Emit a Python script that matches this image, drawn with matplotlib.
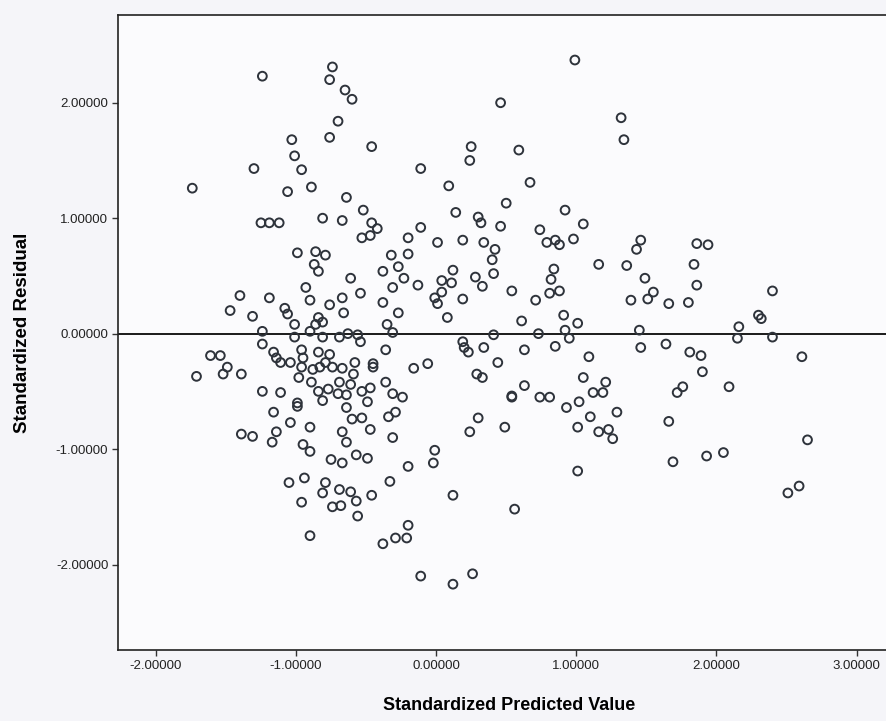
import matplotlib
matplotlib.use("Agg")
import matplotlib.pyplot as plt

# standardized predicted value (x) / standardized residual (y)
pred = [
    -1.24, -1.03, -1.01, -1.30, -0.96, -1.74, -1.06, -0.89, -1.25, -1.19, -1.12,
    -0.74, -0.76, -0.65, -0.60, -0.70, -0.76, -0.46, 0.46, 0.25, 0.24, -0.11,
    0.09, -0.64, -0.52, -0.81, -0.67, -0.46, -0.42, -0.11, 0.14, 0.30, 0.32, 0.46,
    0.99, 1.32, 1.34, 0.59, 0.67, 0.50, 0.92, 1.05, 0.74,
    -0.99, -1.40, -1.19, -1.47, -1.31, -1.08, -1.06, -1.01, -0.93, -0.90, -1.24,
    -1.24, -1.01, -0.90, -1.61, -1.54, -1.49, -1.52, -1.39, -1.71, -1.16, -1.14,
    -1.11, -1.04, -0.96, -0.95, -0.96, -0.98, -0.89, -1.24, -1.11, -0.99, -0.99,
    -1.16, -1.04, -0.90, -1.39, -1.31, -1.14,
    -0.53, -0.47, -0.20, 0.01, 0.19, 0.34, 0.42, 0.40, 0.41, -0.86, -0.79, -0.87,
    -0.84, -0.32, -0.20, -0.38, -0.27, -0.23, -0.61, -0.31, -0.13, 0.04, 0.12,
    0.11, 0.28, 0.33, -0.54, -0.67, 0.04, -0.01, 0.01, 0.19, -0.76, -0.38, -0.27,
    -0.66, 0.08, -0.84, -0.81, -0.86, -0.35, -0.31, -0.81, -0.69, -0.63, -0.56,
    -0.54, -0.36, -0.84, -0.76, 0.19, 0.20, 0.23, 0.34, 0.41, 0.44, -0.79, -0.58,
    -0.45, -0.45, -0.16, -0.06, -0.88, -0.83, -0.74, -0.67, -0.59, -0.36, 0.29,
    0.33, -0.69, -0.61, -0.47, -0.53, -0.84, -0.77, -0.70, -0.64, -0.31, -0.24,
    -0.81, -0.49, -0.64, -0.34, -0.29, -0.60, -0.53, -0.67, -0.47, -0.31, 0.30,
    0.24,
    0.79, 0.85, 0.88, 0.98, 1.46, 1.43, 1.16, 1.36, 0.84, 0.82, 0.54, 0.71, 0.81,
    0.88, 1.49, 1.55, 1.51, 1.39, 1.66, 1.80, 0.61, 0.91, 1.01, 0.73, 0.92, 0.95,
    1.45, 1.46, 1.64, 0.63, 0.85, 1.81, 1.09, 1.05, 1.21, 0.63, 0.54, 0.54, 0.74,
    0.81, 1.12, 1.19, 1.02, 0.93, 1.29, 1.10, 1.72, 1.76, 1.66, 1.01, 1.16, 1.23,
    1.26, 0.49,
    1.86, 1.94, 1.84, 1.86, 2.40, 2.30, 2.32, 2.16, 2.15, 2.40, 1.89, 1.90, 2.61,
    2.09, 2.65,
    -1.17, -0.95, -0.90, -1.05, -0.94, -0.96, -0.90,
    -0.64, -0.75, -0.67, -0.57, -0.49, -0.20, -0.01, -0.02, -0.79, -0.81, -0.69,
    -0.61, -0.57, -0.46, -0.74, -0.68, -0.33, 0.12, -0.56, -0.20, -0.29, -0.21,
    -0.38, -0.11, 0.12, 0.26,
    1.01, 1.69, 0.56,
    1.93, 2.05, 2.51, 2.59,
]
resid = [
    2.23, 1.68, 1.54, 1.43, 1.42, 1.26, 1.23, 1.27, 0.96, 0.96, 0.96,
    2.31, 2.20, 2.11, 2.03, 1.84, 1.70, 1.62, 2.00, 1.62, 1.50, 1.43,
    1.28, 1.18, 1.07, 1.00, 0.98, 0.96, 0.91, 0.92, 1.05, 1.01, 0.96, 0.93,
    2.37, 1.87, 1.68, 1.59, 1.31, 1.13, 1.07, 0.95, 0.90,
    0.70, 0.33, 0.31, 0.20, 0.15, 0.22, 0.17, 0.08, 0.40, 0.29, 0.02,
    -0.09, -0.03, 0.02, -0.19, -0.19, -0.29, -0.35, -0.35, -0.37, -0.16, -0.21,
    -0.25, -0.25, -0.14, -0.21, -0.29, -0.38, -0.42, -0.50, -0.51, -0.60, -0.63,
    -0.68, -0.77, -0.81, -0.87, -0.89, -0.85,
    0.83, 0.85, 0.83, 0.79, 0.81, 0.79, 0.73, 0.64, 0.52, 0.71, 0.68, 0.60,
    0.54, 0.68, 0.69, 0.54, 0.58, 0.48, 0.48, 0.40, 0.42, 0.46, 0.55,
    0.44, 0.49, 0.41, 0.35, 0.31, 0.36, 0.31, 0.26, 0.30, 0.25, 0.27, 0.18,
    0.18, 0.14, 0.14, 0.10, 0.08, 0.08, 0.01, -0.03, -0.03, 0.00, -0.01,
    -0.07, -0.14, -0.16, -0.18, -0.07, -0.12, -0.16, -0.12, -0.01, -0.25, -0.25, -0.25,
    -0.26, -0.29, -0.30, -0.26, -0.31, -0.29, -0.29, -0.30, -0.35, -0.42, -0.35,
    -0.38, -0.42, -0.44, -0.47, -0.50, -0.50, -0.48, -0.52, -0.53, -0.52, -0.55,
    -0.58, -0.59, -0.64, -0.72, -0.68, -0.74, -0.73, -0.85, -0.83, -0.90, -0.73,
    -0.85,
    0.79, 0.81, 0.77, 0.82, 0.81, 0.73, 0.60, 0.59, 0.56, 0.47, 0.37, 0.29, 0.35,
    0.37, 0.48, 0.36, 0.30, 0.29, 0.26, 0.27, 0.11, 0.16, 0.09, 0.00, 0.03, -0.04,
    0.03, -0.12, -0.09, -0.14, -0.11, -0.16, -0.20, -0.38, -0.42, -0.45, -0.54, -0.55, -0.55,
    -0.55, -0.51, -0.51, -0.59, -0.64, -0.68, -0.72, -0.51, -0.46, -0.76, -0.81, -0.85, -0.83,
    -0.91, -0.81,
    0.78, 0.77, 0.60, 0.42, 0.37, 0.16, 0.13, 0.06, -0.04, -0.03, -0.19, -0.33, -0.20,
    -0.46, -0.92,
    -0.94, -0.96, -1.02, -1.29, -1.25, -1.46, -1.75,
    -0.94, -1.09, -1.12, -1.05, -1.08, -1.15, -1.01, -1.12, -1.29, -1.38, -1.35,
    -1.37, -1.45, -1.40, -1.50, -1.49, -1.28, -1.40, -1.58, -1.66, -1.77, -1.77,
    -1.82, -2.10, -2.17, -2.08,
    -1.19, -1.11, -1.52,
    -1.06, -1.03, -1.38, -1.32,
]

xticks = [-2, -1, 0, 1, 2, 3]
yticks = [-2, -1, 0, 1, 2]

plt.rcParams['font.family'] = ['Liberation Sans', 'DejaVu Sans']

fig = plt.figure(figsize=(8.86, 7.21), dpi=100, facecolor='#f5f5f9')
# plot frame runs past the right edge of the picture, as in the scan
ax = fig.add_axes([0.1332, 0.0985, 0.8826, 0.8807])
ax.set_facecolor('#fbfbfd')

ax.scatter(pred, resid, s=40, facecolors='none', edgecolors='#2e333b',
           linewidths=1.4, zorder=3)
ax.axhline(0, color='#1a1a1a', lw=1.4, zorder=2)

ax.set_xlim(-2.27, 3.31)
ax.set_ylim(-2.74, 2.76)
ax.set_xticks(xticks)
ax.set_yticks(yticks)
ax.set_xticklabels([f'{v:.5f}' for v in xticks], fontsize=9.5)
ax.set_yticklabels([f'{v:.5f}' for v in yticks], fontsize=9.5)
ax.tick_params(direction='out', length=4, width=1, color='#333333',
               labelcolor='#222222', pad=3)

for s in ax.spines.values():
    s.set_color('#222222')
    s.set_linewidth(1.2)

ax.set_xlabel('Standardized Predicted Value', fontsize=13, fontweight='bold', labelpad=18)
ax.set_ylabel('Standardized Residual', fontsize=13.5, fontweight='bold', labelpad=18)

fig.savefig('out.png', dpi=100, facecolor=fig.get_facecolor())
